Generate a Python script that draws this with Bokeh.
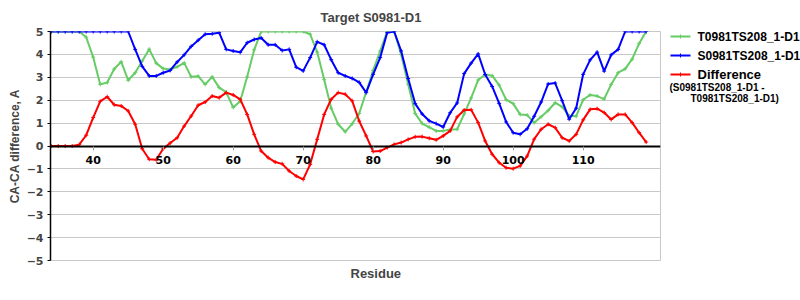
from bokeh.plotting import figure
from bokeh.models import Range1d, FixedTicker, Title, Label
from bokeh.layouts import row
from bokeh.embed import file_html
from bokeh.resources import INLINE

# ---------------- data ----------------
residues = list(range(34, 120))

t_model = [5, 5, 5, 5, 5, 4.75, 3.88, 2.69, 2.77, 3.36,
           3.68, 2.87, 3.2, 3.71, 4.23, 3.62, 3.38, 3.34, 3.46, 3.63,
           3.02, 3.05, 2.69, 3.02, 2.55, 2.35, 1.68, 1.95, 3.02, 4.2,
           5, 5, 5, 5, 5, 5, 5, 4.88, 4.1, 2.9,
           1.65, 0.95, 0.62, 0.97, 1.42, 2.35, 3.3, 4.15, 5, 5,
           4.0, 2.7, 1.42, 0.98, 0.82, 0.66, 0.66, 0.72, 0.73, 1.4,
           2.1, 2.88, 3.12, 3.07, 2.66, 2.02, 1.85, 1.38, 1.35, 1.02,
           1.28, 1.55, 1.89, 1.71, 1.32, 1.3, 2.02, 2.23, 2.18, 2.05,
           2.69, 3.2, 3.37, 3.79, 4.48, 5]

s_model = [5, 5, 5, 5, 5, 5, 5, 5, 5, 5,
           5, 5, 4.22, 3.48, 3.06, 3.06, 3.2, 3.3, 3.67, 3.98,
           4.35, 4.62, 4.88, 4.9, 4.95, 4.22, 4.15, 4.09, 4.51, 4.65,
           4.72, 4.42, 4.42, 4.17, 4.22, 3.44, 3.28, 3.86, 4.55, 4.42,
           3.77, 3.2, 3.06, 2.95, 2.78, 2.33, 3.13, 3.86, 4.95, 5,
           4.15, 2.95, 1.85, 1.4, 1.1, 0.98, 0.83, 1.45, 1.88, 3.16,
           3.62, 4.02, 3.12, 2.6, 1.86, 1.05, 0.58, 0.51, 0.75, 1.3,
           1.92, 2.71, 2.75, 1.98, 1.17, 1.65, 3.13, 3.76, 4.1, 3.27,
           3.98, 4.22, 5, 5, 5, 5]

difference = [0, 0, 0, 0, 0.06, 0.47, 1.24, 1.95, 2.15, 1.8,
              1.75, 1.53, 0.95, -0.12, -0.58, -0.6, -0.12, 0.13, 0.36, 0.87,
              1.31, 1.78, 1.92, 2.18, 2.11, 2.33, 2.23, 2.04, 1.38, 0.51,
              -0.22, -0.51, -0.7, -0.78, -1.09, -1.31, -1.46, -0.8, 0.29, 1.38,
              2.04, 2.33, 2.26, 1.97, 1.09, 0.44, -0.24, -0.22, -0.07, 0.07,
              0.15, 0.29, 0.4, 0.41, 0.34, 0.27, 0.44, 0.66, 1.27, 1.57,
              1.58, 1.02, 0.22, -0.36, -0.73, -0.95, -0.99, -0.87, -0.44, 0.3,
              0.73, 0.95, 0.8, 0.36, 0.22, 0.51, 1.14, 1.6, 1.63, 1.46,
              1.16, 1.38, 1.38, 1.02, 0.58, 0.17]

x_ticks = [40, 50, 60, 70, 80, 90, 100, 110]
y_ticks = [-5, -4, -3, -2, -1, 0, 1, 2, 3, 4, 5]

series_names = ["T0981TS208_1-D1", "S0981TS208_1-D1", "Difference"]
diff_note = ["(S0981TS208_1-D1 -", "T0981TS208_1-D1)"]
title_text = "Target S0981-D1"
x_label = "Residue"
y_label = "CA-CA difference, A"

# ---------------- styles ----------------
colors = ["#66cc66", "#0000ff", "#ff0000"]
FONT = "Liberation Sans"
TICK_FONT = "DejaVu Sans"
GRID = "#c8c8c8"
TOP, BOTTOM = 31, 40

p = figure(width=668, height=300,
           x_range=Range1d(33.9, 121.05), y_range=Range1d(-5, 5),
           output_backend="svg", toolbar_location=None,
           min_border_left=50, min_border_right=8,
           min_border_top=TOP, min_border_bottom=BOTTOM)
p.background_fill_color = "white"
p.border_fill_color = "white"
p.outline_line_color = GRID

p.title.text = title_text
p.title.align = "left"
p.title.offset = 270
p.title.standoff = 14
p.title.text_font = FONT
p.title.text_font_size = "13px"
p.title.text_font_style = "bold"

# x axis sits on y = 0
xa = p.xaxis[0]
xa.fixed_location = 0
xa.ticker = FixedTicker(ticks=x_ticks)
xa.axis_line_color = "black"
xa.axis_line_width = 2
xa.major_tick_line_color = "#a0a0a0"
xa.major_tick_out = 4
xa.major_tick_in = 0
xa.minor_tick_line_color = None
xa.major_label_standoff = 6
xa.major_label_text_font = TICK_FONT
xa.major_label_text_font_style = "bold"
xa.major_label_text_font_size = "11px"
xa.major_label_text_color = "black"

p.add_layout(Title(text=x_label, align="left", offset=300, standoff=6,
                   text_font=FONT, text_font_size="13px",
                   text_font_style="bold"), "below")

ya = p.yaxis[0]
ya.ticker = FixedTicker(ticks=y_ticks)
ya.axis_line_color = "black"
ya.axis_line_width = 1.5
ya.major_tick_line_color = "black"
ya.major_tick_out = 3
ya.major_tick_in = 0
ya.minor_tick_line_color = None
ya.major_label_standoff = 4
ya.major_label_text_font = TICK_FONT
ya.major_label_text_font_style = "bold"
ya.major_label_text_font_size = "11px"
ya.axis_label = y_label
ya.axis_label_text_font = FONT
ya.axis_label_text_font_size = "12px"
ya.axis_label_text_font_style = "bold"
ya.axis_label_standoff = 2

p.xgrid.grid_line_color = None
p.ygrid.ticker = FixedTicker(ticks=y_ticks)
p.ygrid.grid_line_color = GRID
p.ygrid.grid_line_width = 1

for vals, c in zip([t_model, s_model, difference], colors):
    p.line(residues, vals, line_color=c, line_width=2)
    p.scatter(residues, vals, marker="cross", size=4, line_color=c, line_width=1)

# ---------------- legend panel (coordinates = canvas pixels) ----------------
lg = figure(width=132, height=300, x_range=Range1d(0, 132),
            y_range=Range1d(300 - BOTTOM, TOP),
            output_backend="svg", toolbar_location=None,
            min_border_left=0, min_border_right=0,
            min_border_top=TOP, min_border_bottom=BOTTOM)
lg.axis.visible = False
lg.grid.visible = False
lg.outline_line_color = None
lg.background_fill_color = "white"
lg.border_fill_color = "white"

legend_rows = [36, 55, 74]
legend_sizes = ["12px", "12px", "13px"]
for name, c, yy, fs in zip(series_names, colors, legend_rows, legend_sizes):
    lg.line([2, 22], [yy, yy], line_color=c, line_width=2)
    lg.scatter([12], [yy], marker="cross", size=4, line_color=c)
    lg.add_layout(Label(x=29, y=yy, text=name, text_font=FONT, text_font_style="bold",
                        text_font_size=fs, text_baseline="middle", text_color="black"))

for xx, yy, note in zip([1, 22], [87, 98], diff_note):
    lg.add_layout(Label(x=xx, y=yy, text=note, text_font=FONT, text_font_style="bold",
                        text_font_size="10px", text_baseline="middle", text_color="black"))

layout = row(p, lg)
open("out.html", "w").write(file_html(layout, INLINE))
